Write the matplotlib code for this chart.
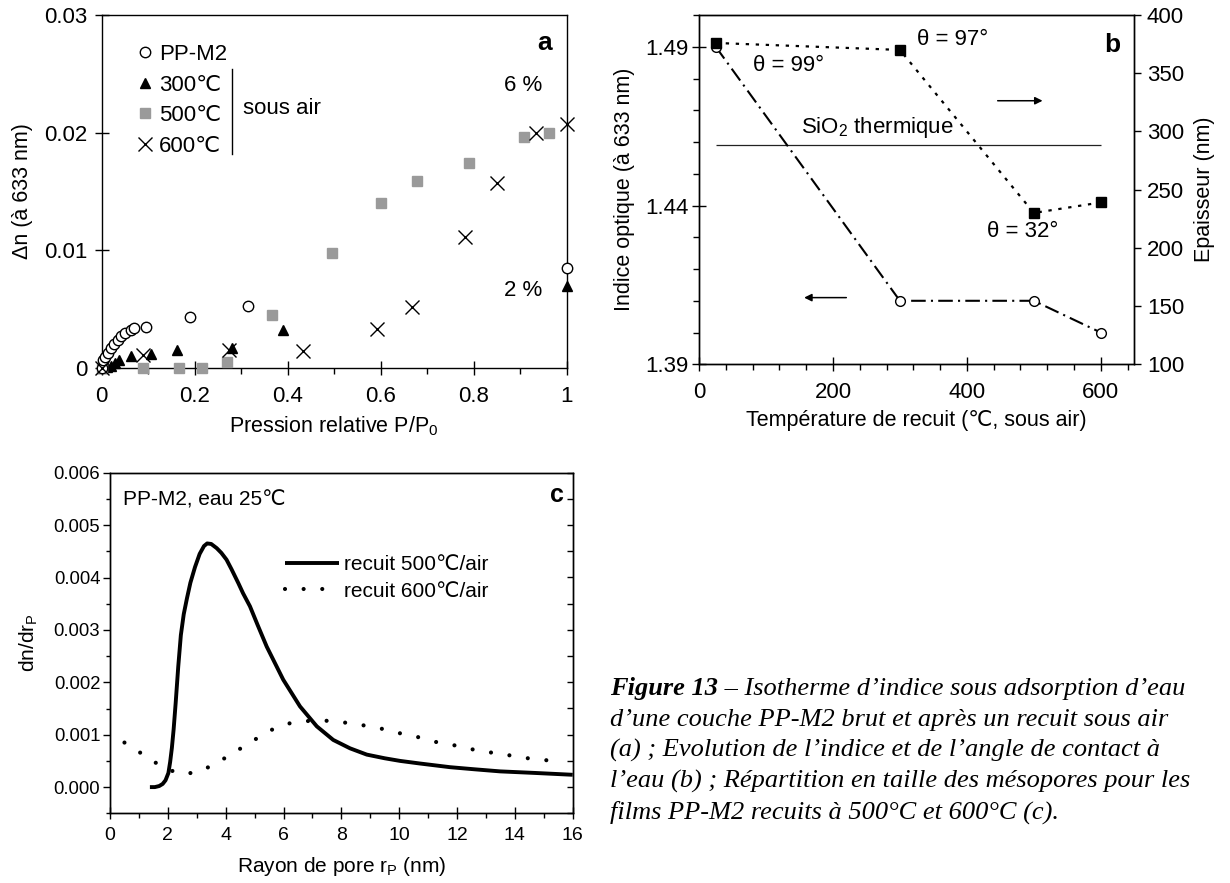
import matplotlib
matplotlib.use('Agg')
import matplotlib.pyplot as plt
from matplotlib.ticker import MultipleLocator

plt.rcParams['font.family'] = ['Liberation Sans', 'DejaVu Sans']
plt.rcParams['mathtext.default'] = 'regular'
plt.rcParams['axes.linewidth'] = 1.0

# ---------------- Panel a data ----------------
pp_x = [0, 0.003, 0.007, 0.014, 0.020, 0.027, 0.034, 0.041, 0.050, 0.062, 0.070, 0.095, 0.19, 0.315, 1.0]
pp_y = [0, 0.0007, 0.0009, 0.0013, 0.0017, 0.0020, 0.0024, 0.0027, 0.0030, 0.0032, 0.0034, 0.0035, 0.0043, 0.0053, 0.0085]
t300_x = [0, 0.012, 0.021, 0.029, 0.038, 0.063, 0.107, 0.161, 0.28, 0.389, 1.0]
t300_y = [0, 0.0001, 0.0002, 0.0004, 0.0007, 0.0010, 0.0012, 0.0015, 0.0017, 0.0032, 0.0070]
t500_x = [0, 0.089, 0.166, 0.215, 0.27, 0.367, 0.495, 0.60, 0.677, 0.789, 0.908, 0.963]
t500_y = [0, 0, 0, 0, 0.0005, 0.0045, 0.00975, 0.0140, 0.0159, 0.0174, 0.0196, 0.0200]
t600_x = [0, 0.088, 0.273, 0.432, 0.591, 0.668, 0.781, 0.851, 0.934, 1.0]
t600_y = [0, 0.0011, 0.0015, 0.00145, 0.0033, 0.0052, 0.0111, 0.0157, 0.0200, 0.0207]
a_labels = ['PP-M2', '300℃', '500℃', '600℃']
a_xticks = [0, 0.2, 0.4, 0.6, 0.8, 1.0]
a_xticklabels = ['0', '0.2', '0.4', '0.6', '0.8', '1']
a_yticks = [0, 0.01, 0.02, 0.03]
a_yticklabels = ['0', '0.01', '0.02', '0.03']

# ---------------- Panel b data ----------------
temp = [25, 300, 500, 600]
index = [1.49, 1.41, 1.41, 1.40]
thick = [376, 370, 230, 239]
sio2_index = 1.459
angles = ['θ = 99°', 'θ = 97°', 'θ = 32°']
b_yticks = [1.39, 1.44, 1.49]
b_y2ticks = [100, 150, 200, 250, 300, 350, 400]
b_xticks = [0, 200, 400, 600]

# ---------------- Panel c data ----------------
r500 = [1.38, 1.55, 1.70, 1.82, 1.92, 2.02, 2.08, 2.14, 2.20, 2.27, 2.36, 2.45, 2.55, 2.66,
        2.78, 2.94, 3.10, 3.25, 3.36, 3.50, 3.69, 3.85, 4.03, 4.20, 4.44, 4.60, 4.84, 5.10,
        5.42, 5.99, 6.57, 7.15, 7.72, 8.30, 8.88, 9.50, 10.03, 10.72, 11.76, 12.60, 13.49,
        14.70, 16.0]
d500 = [0, 0, 0.00002, 0.00006, 0.00013, 0.00027, 0.00048, 0.00075, 0.00110, 0.00160, 0.0023,
        0.0029, 0.0033, 0.0036, 0.0039, 0.0042, 0.00445, 0.00460, 0.00465, 0.00464, 0.00456,
        0.00447, 0.00434, 0.00416, 0.00389, 0.00370, 0.00345, 0.00310, 0.00268, 0.00205,
        0.00154, 0.00116, 0.0009, 0.00074, 0.00062, 0.00055, 0.00050, 0.00045, 0.00038,
        0.00034, 0.00030, 0.00027, 0.000235]
r600 = [0.5, 1.15, 1.79, 2.42, 3.02, 3.63, 4.26, 4.90, 5.53, 6.13, 6.78, 7.40, 8.01, 8.64,
        9.28, 9.91, 10.55, 11.18, 11.81, 12.43, 13.05, 13.67, 14.30, 14.93, 15.6]
d600 = [0.00085, 0.00062, 0.00039, 0.00025, 0.00028, 0.00044, 0.00065, 0.00087, 0.00108,
        0.00121, 0.00126, 0.00127, 0.00124, 0.00119, 0.00113, 0.00104, 0.00097, 0.00087,
        0.00081, 0.00073, 0.00067, 0.00062, 0.00056, 0.00052, 0.00049]
c_labels = ['recuit 500℃/air', 'recuit 600℃/air']
c_yticks = [0, 0.001, 0.002, 0.003, 0.004, 0.005, 0.006]
c_xticks = [0, 2, 4, 6, 8, 10, 12, 14, 16]

caption_lines = [
    'd’une couche PP-M2 brut et après un recuit sous air',
    '(a) ; Evolution de l’indice et de l’angle de contact à',
    'l’eau (b) ; Répartition en taille des mésopores pour les',
    'films PP-M2 recuits à 500°C et 600°C (c).',
]

W, H = 1230, 883
fig = plt.figure(figsize=(W / 100, H / 100), dpi=100)


def ax_px(l, t, r, b):
    return fig.add_axes([l / W, 1 - b / H, (r - l) / W, (b - t) / H])


FT = 16      # tick labels / legend panels a, b
FL = 15.5    # axis labels panels a, b
FC = 13.3    # tick labels panel c
FCL = 15     # labels / texts panel c

# ================= Panel a =================
axa = ax_px(101.7, 15, 566.7, 368)
axa.plot(pp_x, pp_y, 'o', mfc='white', mec='black', ms=7.5, mew=1, clip_on=False, label=a_labels[0], zorder=4)
axa.plot(t300_x, t300_y, '^', color='black', ms=7, clip_on=False, label=a_labels[1], zorder=3)
axa.plot(t500_x, t500_y, 's', color='#9a9a9a', ms=7, clip_on=False, label=a_labels[2], zorder=3)
axa.plot(t600_x, t600_y, 'x', color='black', ms=10, mew=1, clip_on=False, label=a_labels[3], zorder=5)
axa.set_xlim(0, 1)
axa.set_ylim(0, 0.03)
axa.set_xticks(a_xticks)
axa.set_xticklabels(a_xticklabels)
axa.set_yticks(a_yticks)
axa.set_yticklabels(a_yticklabels)
axa.xaxis.set_minor_locator(MultipleLocator(0.1))
axa.tick_params(axis='both', which='major', direction='inout', length=10, width=1, labelsize=FT)
axa.tick_params(axis='x', which='major', pad=8)
axa.tick_params(axis='y', which='major', pad=5)
axa.tick_params(axis='x', which='minor', direction='out', length=4, width=1)
axa.set_xlabel('Pression relative P/P$_0$', fontsize=FL, labelpad=5)
axa.set_ylabel('Δn (à 633 nm)', fontsize=FL, labelpad=8)
axa.legend(loc='upper left', bbox_to_anchor=(0.074, 0.918), frameon=False, handlelength=0.8,
           handletextpad=0.22, borderpad=0, borderaxespad=0, labelspacing=0.43, fontsize=FT,
           numpoints=1)
axa.plot([0.281, 0.281], [0.606, 0.847], color='black', lw=1, transform=axa.transAxes, clip_on=False)
axa.text(0.3035, 0.736, 'sous air', transform=axa.transAxes, fontsize=FT, va='center', ha='left')
axa.text(0.968, 0.921, 'a', transform=axa.transAxes, fontsize=FT + 3, weight='bold', ha='right', va='center')
axa.text(0.907, 0.0240, '6 %', fontsize=FT, ha='center', va='center')
axa.text(0.907, 0.0066, '2 %', fontsize=FT, ha='center', va='center')

# ================= Panel b =================
axb = ax_px(699, 15, 1134.3, 364.3)
axb.plot(temp, index, linestyle=(0, (7, 2.5, 1, 2.5)), color='black', lw=1.5, marker='o',
         mfc='white', mec='black', ms=7, mew=1, clip_on=False, zorder=3)
axb.hlines(sio2_index, temp[0], temp[-1], color='#222222', lw=0.9)
axb.set_xlim(0, 650)
axb.set_ylim(1.39, 1.50)
axb.set_yticks(b_yticks)
axb.set_yticklabels([f'{v:.2f}' for v in b_yticks])
axb.yaxis.set_minor_locator(MultipleLocator(0.01))
axb.set_xticks(b_xticks)
axb.xaxis.set_minor_locator(MultipleLocator(40))
axb.tick_params(axis='both', which='major', direction='inout', length=9.5, width=1, labelsize=FT)
axb.tick_params(axis='x', which='major', pad=8)
axb.tick_params(axis='y', which='major', pad=3)
axb.tick_params(axis='both', which='minor', direction='out', length=4, width=1)
axb.set_xlabel('Température de recuit (℃, sous air)', fontsize=FL, labelpad=5)
axb.set_ylabel('Indice optique (à 633 nm)', fontsize=FL, labelpad=7)

axb2 = axb.twinx()
axb2.plot(temp, thick, linestyle=(0, (1.5, 3)), color='black', lw=1.6, marker='s', ms=6.5,
          mfc='black', mec='black', clip_on=False, zorder=3)
axb2.set_ylim(100, 400)
axb2.set_yticks(b_y2ticks)
axb2.tick_params(axis='y', direction='out', length=5, width=1, labelsize=FT, pad=4)
axb2.set_ylabel('Epaisseur (nm)', fontsize=FL, labelpad=7)

axb.text(266.5, 1.4645, 'SiO$_2$ thermique', fontsize=FT, ha='center', va='center')
axb.text(133.9, 1.484, angles[0], fontsize=FT, ha='center', va='center')
axb.text(378, 1.4924, angles[1], fontsize=FT, ha='center', va='center')
axb.text(483.6, 1.4319, angles[2], fontsize=FT, ha='center', va='center')
axb.text(0.967, 0.914, 'b', transform=axb.transAxes, fontsize=FT + 3, weight='bold', ha='right', va='center')
arrow_kw = dict(arrowstyle='-|>', color='black', lw=1.1, mutation_scale=11, shrinkA=0, shrinkB=0)
axb.annotate('', xy=(513, 1.473), xytext=(446, 1.473), arrowprops=arrow_kw)
axb.annotate('', xy=(157, 1.411), xytext=(220, 1.411), arrowprops=arrow_kw)

# ================= Panel c =================
axc = ax_px(110, 472.7, 572.7, 813.3)
axc.plot(r500, d500, color='black', lw=2.8, label=c_labels[0], solid_capstyle='butt',
         solid_joinstyle='round')
axc.plot(r600, d600, color='black', lw=3.0, linestyle=(0, (0.001, 4.47)), dash_capstyle='round',
         label=c_labels[1])
axc.set_xlim(0, 16)
axc.set_ylim(-0.0005, 0.006)
axc.set_yticks(c_yticks)
axc.set_yticklabels([f'{v:.3f}' for v in c_yticks])
axc.yaxis.set_minor_locator(MultipleLocator(0.0005))
axc.set_xticks(c_xticks)
axc.xaxis.set_minor_locator(MultipleLocator(1))
axc.tick_params(axis='y', which='major', direction='out', length=5, width=1, labelsize=FC, pad=2)
axc.tick_params(axis='y', which='minor', direction='out', length=3, width=1)
axc.tick_params(axis='x', which='major', direction='inout', length=8, width=1, labelsize=FC + 0.7, pad=6)
axc.tick_params(axis='x', which='minor', direction='out', length=3.5, width=1)
axc.set_xlabel('Rayon de pore r$_P$ (nm)', fontsize=FCL, labelpad=8)
axc.set_ylabel('dn/dr$_P$', fontsize=FCL, labelpad=10)
axc.legend(loc='upper left', bbox_to_anchor=(0.378, 0.758), frameon=False, handlelength=2.6,
           handletextpad=0.25, borderpad=0, borderaxespad=0, labelspacing=0.36, fontsize=FCL)
axc.text(0.029, 0.92, 'PP-M2, eau 25℃', transform=axc.transAxes, fontsize=FCL, ha='left', va='center')
axc.text(0.980, 0.935, 'c', transform=axc.transAxes, fontsize=FCL + 3, weight='bold', ha='right', va='center')

axc_r = axc.twinx()
axc_r.set_ylim(axc.get_ylim())
axc_r.yaxis.set_major_locator(MultipleLocator(0.0005))
axc_r.tick_params(axis='y', direction='in', length=4, width=1, labelright=False)

# ================= Caption =================
cap_x = 610
bases = [695, 725.8, 756.6, 787.4, 818.3]
cap_kw = dict(family=['Liberation Serif', 'DejaVu Serif'], style='italic', size=19, va='baseline', ha='left')
t0 = fig.text(cap_x / W, 1 - bases[0] / H, 'Figure 13', weight='bold', **cap_kw)
fig.canvas.draw()
bb = t0.get_window_extent()
fig.text(bb.x1 / W, 1 - bases[0] / H, ' – Isotherme d’indice sous adsorption d’eau', **cap_kw)
for line, yb in zip(caption_lines, bases[1:]):
    fig.text(cap_x / W, 1 - yb / H, line, **cap_kw)

fig.savefig('out.png', dpi=100)
